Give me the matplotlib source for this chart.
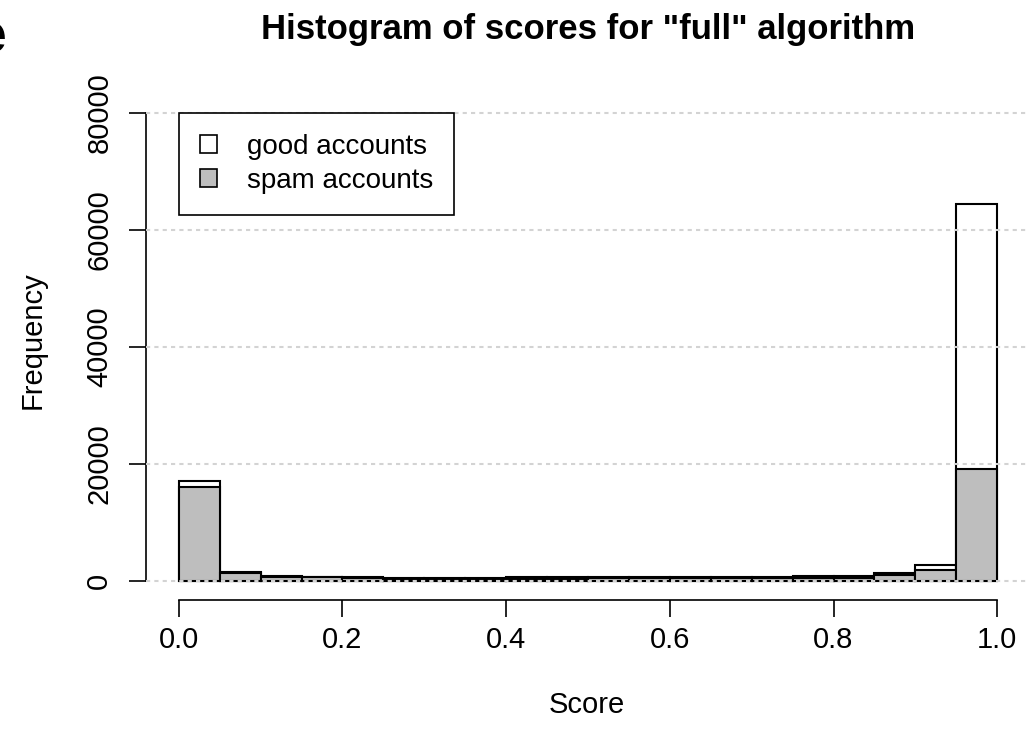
import numpy as np
import matplotlib
matplotlib.use("Agg")
import matplotlib.pyplot as plt
from matplotlib.patches import Patch

plt.rcParams["font.family"] = ["Liberation Sans", "DejaVu Sans"]

# histogram bins (score), 20 bins of width 0.05
bin_edges = np.round(np.arange(0, 1.0001, 0.05), 2)
good_counts = [17100, 1490, 850, 740, 620, 560, 560, 580, 600, 600,
               620, 620, 640, 640, 700, 780, 910, 1310, 2780, 64400]
spam_counts = [16100, 1300, 700, 600, 480, 420, 400, 400, 420, 420,
               430, 430, 440, 440, 460, 480, 510, 970, 1820, 19200]
x_ticks = [0.0, 0.2, 0.4, 0.6, 0.8, 1.0]
y_ticks = [0, 20000, 40000, 60000, 80000]

W, H = 1026, 732
fig = plt.figure(figsize=(W / 100, H / 100), dpi=100)
ax = fig.add_axes([0.1423, 0.1807, 0.8616, 0.6905])

left = bin_edges[:-1]
w = np.diff(bin_edges)
ax.bar(left, good_counts, w, align='edge', color='white', edgecolor='black', linewidth=1.5, zorder=2)
ax.bar(left, spam_counts, w, align='edge', color='#BEBEBE', edgecolor='black', linewidth=1.5, zorder=3)

for yv in y_ticks:
    ax.axhline(yv, color='#D3D3D3', linestyle=(0, (2, 2)), linewidth=1.5, zorder=4)

ax.set_xlim(-0.04, 1.04)
ax.set_ylim(-3200, 83200)

for s in ['top', 'right']:
    ax.spines[s].set_visible(False)
ax.spines['left'].set_bounds(0, 80000)
ax.spines['bottom'].set_bounds(0, 1)
ax.spines['left'].set_linewidth(1.2)
ax.spines['bottom'].set_linewidth(1.2)

ax.set_xticks(x_ticks)
ax.set_xticklabels(["%.1f" % v for v in x_ticks])
ax.set_yticks(y_ticks)
ax.set_yticklabels([str(v) for v in y_ticks], rotation=90, va='center')
ax.tick_params(axis='both', labelsize=21, length=12, width=1.2)
ax.tick_params(axis='x', pad=7)
ax.tick_params(axis='y', pad=11.5)

# axis titles and main title placed like R's margin text
fig.text(587 / W, 1 - 705 / H, "Score", fontsize=21, ha='center', va='center')
fig.text(33 / W, 1 - 340 / H, "Frequency", fontsize=21, rotation=90, ha='center', va='center')
fig.text(588 / W, 1 - 30 / H, 'Histogram of scores for "full" algorithm',
         fontsize=25, fontweight='bold', ha='center', va='center')

handles = [Patch(facecolor='white', edgecolor='black', linewidth=1.2),
           Patch(facecolor='#BEBEBE', edgecolor='black', linewidth=1.2)]
leg = ax.legend(handles, ["good accounts", "spam accounts"], loc='upper left',
                bbox_to_anchor=(0, 80000), bbox_transform=ax.transData,
                fontsize=20, fancybox=False, framealpha=1, edgecolor='black',
                borderaxespad=0, handlelength=0.62, handleheight=0.62,
                handletextpad=1.1, borderpad=0.75, labelspacing=0.3)
leg.get_frame().set_linewidth(1.2)
leg.set_zorder(5)

# stray panel letter cut off at the figure edge
fig.text(0.006, 0.947, "e", fontsize=40, fontweight='bold', ha='right', va='center')

fig.savefig("out.png", dpi=100)
